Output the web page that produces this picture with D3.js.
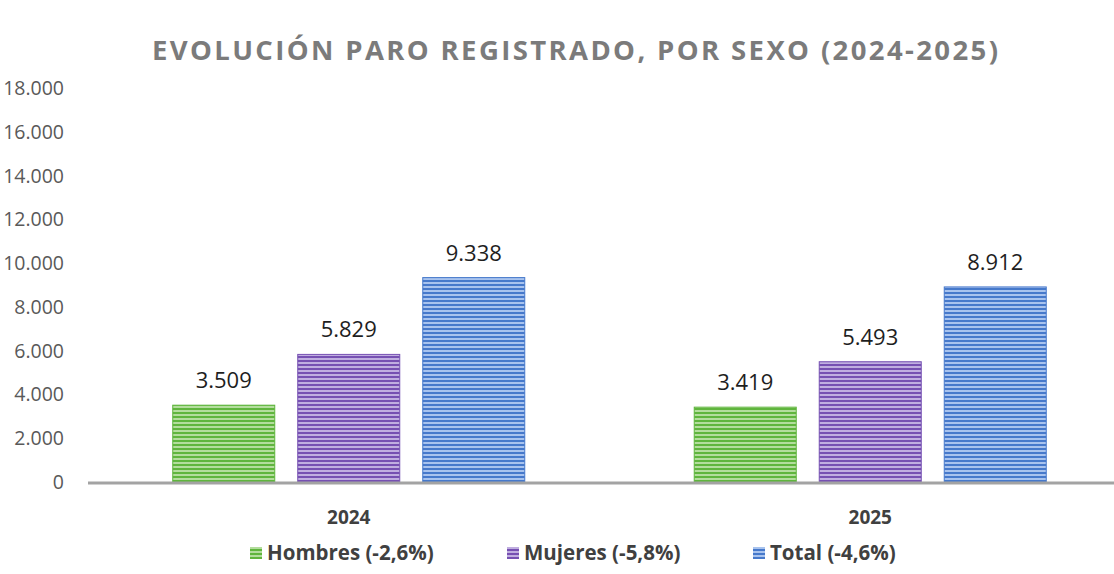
<!DOCTYPE html>
<html>
<head>
<meta charset="utf-8">
<script src="https://cdn.jsdelivr.net/npm/d3@7"></script>
<style>
  body { margin: 0; background: #fff; }
  svg { display: block; }
</style>
</head>
<body>
<div id="chart"></div>
<script>
// data
const years = ["2024", "2025"];
const series = ["Hombres (-2,6%)", "Mujeres (-5,8%)", "Total (-4,6%)"];
const hombres = [3509, 3419];
const mujeres = [5829, 5493];
const total = [9338, 8912];
const yTicks = [0, 2000, 4000, 6000, 8000, 10000, 12000, 14000, 16000, 18000];

const width = 1114, height = 574;
const colors = [
  { dark: "#5fb53d", light: "#b3dd9d" },
  { dark: "#7650b2", light: "#c0aee0" },
  { dark: "#4679cb", light: "#a8c3ee" }
];
const font = "'Open Sans', sans-serif";

const svg = d3.select("#chart")
  .append("svg")
  .attr("width", width)
  .attr("height", height);

// striped fills, like the excel bars
const defs = svg.append("defs");
colors.forEach(function (c, i) {
  const p = defs.append("pattern")
    .attr("id", "stripe" + i)
    .attr("patternUnits", "userSpaceOnUse")
    .attr("width", 8)
    .attr("height", 4);
  p.append("rect").attr("width", 8).attr("height", 4).attr("fill", c.light);
  p.append("rect").attr("width", 8).attr("height", 2).attr("fill", c.dark);
});

const y = d3.scaleLinear().domain([0, 18000]).range([482, 88]);
const x0 = d3.scaleBand().domain(years).range([88, 1131]);
const clusterW = x0.bandwidth() * 0.675;
const x1 = d3.scaleBand().domain(d3.range(series.length))
  .range([0, clusterW]).paddingInner(0.184);

const fmt = d3.formatLocale({ decimal: ",", thousands: ".", grouping: [3], currency: ["", "€"] }).format(",d");

// title
svg.append("text")
  .attr("x", 575)
  .attr("y", 60)
  .attr("text-anchor", "middle")
  .attr("textLength", 846)
  .attr("lengthAdjust", "spacing")
  .style("font-family", font)
  .style("font-weight", "bold")
  .style("font-size", "27.5px")
  .style("fill", "#7b7b7b")
  .text("EVOLUCIÓN PARO REGISTRADO, POR SEXO (2024-2025)");

// y labels
svg.selectAll(".ylab")
  .data(yTicks)
  .join("text")
  .attr("class", "ylab")
  .attr("x", 64)
  .attr("y", function (d) { return y(d); })
  .attr("dy", "0.36em")
  .attr("text-anchor", "end")
  .style("font-family", font)
  .style("font-size", "19.5px")
  .style("fill", "#595959")
  .text(function (d) { return fmt(d); });

// bars
const rows = years.map(function (yr, i) {
  return { year: yr, values: [hombres[i], mujeres[i], total[i]] };
});

const groups = svg.selectAll(".grp")
  .data(rows)
  .join("g")
  .attr("class", "grp")
  .attr("transform", function (d) {
    return `translate(${x0(d.year) + (x0.bandwidth() - clusterW) / 2},0)`;
  });

groups.selectAll("rect")
  .data(function (d) { return d.values.map(function (v, k) { return { k: k, v: v }; }); })
  .join("rect")
  .attr("x", function (d) { return x1(d.k); })
  .attr("y", function (d) { return y(d.v); })
  .attr("width", x1.bandwidth())
  .attr("height", function (d) { return y(0) - y(d.v); })
  .attr("fill", function (d) { return `url(#stripe${d.k})`; })
  .attr("stroke", function (d) { return colors[d.k].dark; })
  .attr("stroke-width", 1);

groups.selectAll(".vlab")
  .data(function (d) { return d.values.map(function (v, k) { return { k: k, v: v }; }); })
  .join("text")
  .attr("class", "vlab")
  .attr("x", function (d) { return x1(d.k) + x1.bandwidth() / 2; })
  .attr("y", function (d) { return y(d.v) - 25; })
  .attr("dy", "0.36em")
  .attr("text-anchor", "middle")
  .style("font-family", font)
  .style("font-size", "22px")
  .style("fill", "#1e1e1e")
  .text(function (d) { return fmt(d.v); });

// baseline
svg.append("line")
  .attr("x1", 88).attr("x2", width)
  .attr("y1", y(0) + 1).attr("y2", y(0) + 1)
  .attr("stroke", "#a3a3a3")
  .attr("stroke-width", 3);

// category labels
svg.selectAll(".xlab")
  .data(years)
  .join("text")
  .attr("class", "xlab")
  .attr("x", function (d) { return x0(d) + x0.bandwidth() / 2; })
  .attr("y", 517)
  .attr("dy", "0.36em")
  .attr("text-anchor", "middle")
  .style("font-family", font)
  .style("font-weight", "bold")
  .style("font-size", "19px")
  .style("fill", "#404040")
  .text(function (d) { return d; });

// legend
const legX = [250, 507, 753];
const leg = svg.selectAll(".leg")
  .data(series)
  .join("g")
  .attr("class", "leg")
  .attr("transform", function (d, i) { return `translate(${legX[i]},553)`; });

leg.append("rect")
  .attr("x", 0).attr("y", -6)
  .attr("width", 12).attr("height", 12)
  .attr("fill", function (d, i) { return `url(#stripe${i})`; });

leg.append("text")
  .attr("x", 17)
  .attr("dy", "0.36em")
  .style("font-family", font)
  .style("font-weight", "bold")
  .style("font-size", "20.5px")
  .style("fill", "#404040")
  .text(function (d) { return d; });
</script>
</body>
</html>
